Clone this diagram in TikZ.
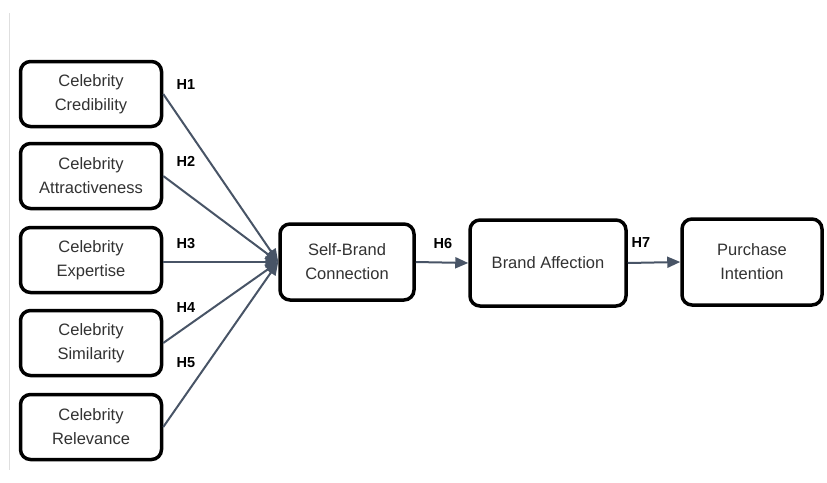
\documentclass[tikz,border=0pt]{standalone}
\usepackage{fontspec}
\setmainfont{Liberation Sans}
\usepackage{xcolor}
\usetikzlibrary{arrows.meta}
\definecolor{linkgray}{RGB}{72,84,102}
\definecolor{textgray}{RGB}{50,50,50}

\begin{document}
\begin{tikzpicture}[x=1pt, y=-1pt,
  construct/.style={draw=black, line width=3.5pt, rounded corners=10pt, fill=white,
    align=center, font=\fontsize{16.5}{24}\selectfont, text=textgray, inner sep=2pt},
  smallbox/.style={construct, minimum width=141pt, minimum height=65pt},
  link/.style={draw=linkgray, line width=2pt, ->, >={Triangle[length=13pt, width=11pt]}},
  hyp/.style={font=\fontsize{14.5}{16}\selectfont\bfseries, text=black}]
  \useasboundingbox (0,0) rectangle (827,482);

  % Page edge
  \draw[gray!25, line width=0.8pt] (9,13) -- (9,470);

  % Antecedents
  \node[smallbox] (cred) at (91,94) {Celebrity\\Credibility};
  \node[smallbox] (attr) at (91,176) {Celebrity\\Attractiveness};
  \node[smallbox] (expe) at (91,260) {Celebrity\\Expertise};
  \node[smallbox] (simi) at (91,343) {Celebrity\\Similarity};
  \node[smallbox] (rele) at (91,427) {Celebrity\\Relevance};

  % Mediators and outcome
  \node[construct, minimum width=134pt, minimum height=76pt] (sbc) at (347,262) {Self-Brand\\Connection};
  \node[construct, minimum width=156pt, minimum height=86pt] (aff) at (548,263) {Brand Affection};
  \node[construct, minimum width=140pt, minimum height=86pt] (pi) at (752,262) {Purchase\\Intention};

  % Paths
  \draw[link] (cred.east) -- (sbc.west);
  \draw[link] (attr.east) -- (sbc.west);
  \draw[link] (expe.east |- sbc.west) -- (sbc.west);
  \draw[link] (simi.east) -- (sbc.west);
  \draw[link] (rele.east) -- (sbc.west);
  \draw[link] (sbc.east) -- (aff.west);
  \draw[link] (aff.east) -- (pi.west);

  % Hypotheses
  \node[hyp] (h1) at (186,85) {H1};
  \node[hyp] (h2) at (186,161) {H2};
  \node[hyp] (h3) at (186,244) {H3};
  \node[hyp] (h4) at (186,308) {H4};
  \node[hyp] (h5) at (186,363) {H5};
  \node[hyp] (h6) at (443,244) {H6};
  \node[hyp] (h7) at (641,243) {H7};
\end{tikzpicture}
\end{document}
